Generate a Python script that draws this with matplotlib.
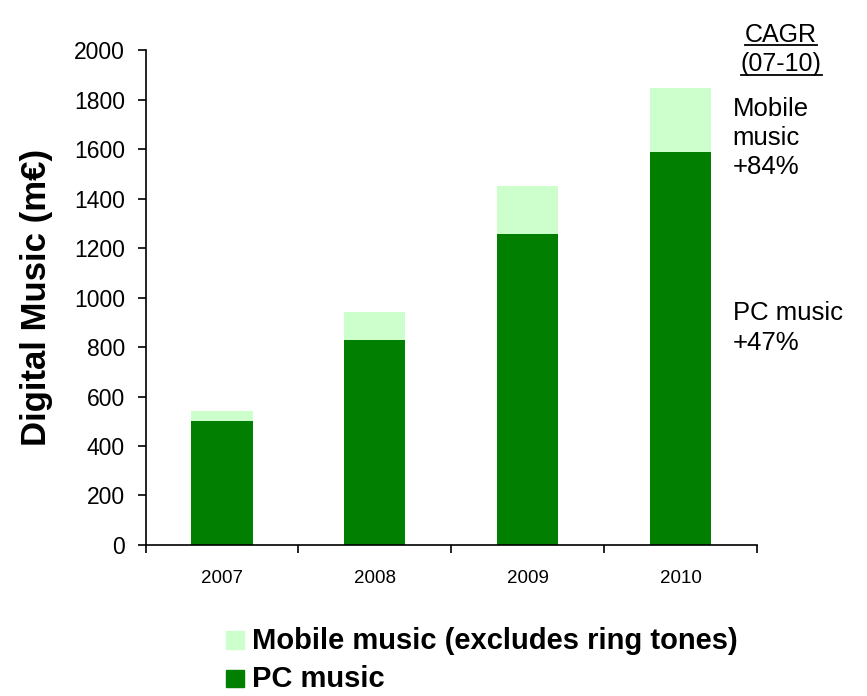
import matplotlib
matplotlib.use("Agg")
import matplotlib.pyplot as plt
from matplotlib.patches import Rectangle
from matplotlib.lines import Line2D

plt.rcParams['font.family'] = ['Liberation Sans', 'DejaVu Sans']

# Data (m€)
years = ["2007", "2008", "2009", "2010"]
pc_music = [500, 830, 1255, 1590]
mobile_music = [40, 110, 195, 255]

pc_color = "#007f00"
mobile_color = "#ccffcc"

fig = plt.figure(figsize=(8.67, 6.96), dpi=100)
ax = fig.add_axes([0.168, 0.217, 0.705, 0.711])

x = list(range(len(years)))
ax.bar(x, pc_music, width=0.4, color=pc_color, label="PC music")
ax.bar(x, mobile_music, width=0.4, bottom=pc_music, color=mobile_color,
       label="Mobile music (excludes ring tones)")

ax.set_xlim(-0.5, len(years) - 0.5)
ax.set_ylim(0, 2000)
ax.set_yticks(range(0, 2001, 200))
ax.tick_params(axis='y', labelsize=16.5, length=6, width=1.2, direction='out', pad=9)

# category labels in the middle, tick marks between categories
ax.set_xticks([i - 0.5 for i in range(len(years) + 1)])
ax.set_xticklabels([])
ax.tick_params(axis='x', length=6, width=1.2, direction='out')
for i, yr in enumerate(years):
    ax.text(i, -0.05, yr, transform=ax.get_xaxis_transform(),
            ha='center', va='top', fontsize=13.5)

for side in ['top', 'right']:
    ax.spines[side].set_visible(False)
ax.spines['left'].set_linewidth(1.2)
ax.spines['bottom'].set_linewidth(1.2)

ax.set_ylabel("Digital Music (m€)", fontsize=25, fontweight='bold')
ax.yaxis.set_label_coords(-0.152, 0.5)

# CAGR annotations on the right
t1 = fig.text(0.901, 0.940, "CAGR", ha='center', va='baseline', fontsize=18)
t2 = fig.text(0.901, 0.898, "(07-10)", ha='center', va='baseline', fontsize=18)
fig.text(0.845, 0.860, "Mobile\nmusic\n+84%", ha='left', va='top',
         fontsize=18.5, linespacing=1.25)
fig.text(0.845, 0.568, "PC music\n+47%", ha='left', va='top',
         fontsize=18.5, linespacing=1.35)

fig.canvas.draw()
renderer = fig.canvas.get_renderer()
for t in [t1, t2]:
    bb = t.get_window_extent(renderer).transformed(fig.transFigure.inverted())
    fig.add_artist(Line2D([bb.x0, bb.x1], [bb.y0 + 0.002, bb.y0 + 0.002],
                          transform=fig.transFigure, color='black', lw=1.3))

# legend drawn by hand below the axes
sq_w, sq_h = 0.021, 0.025
for yy, col, lab in [(0.068, mobile_color, "Mobile music (excludes ring tones)"),
                     (0.013, pc_color, "PC music")]:
    fig.add_artist(Rectangle((0.261, yy), sq_w, sq_h, transform=fig.transFigure,
                             color=col))
    fig.text(0.291, yy, lab, fontsize=21, fontweight='bold',
             ha='left', va='baseline')

fig.savefig("out.png", dpi=100)
